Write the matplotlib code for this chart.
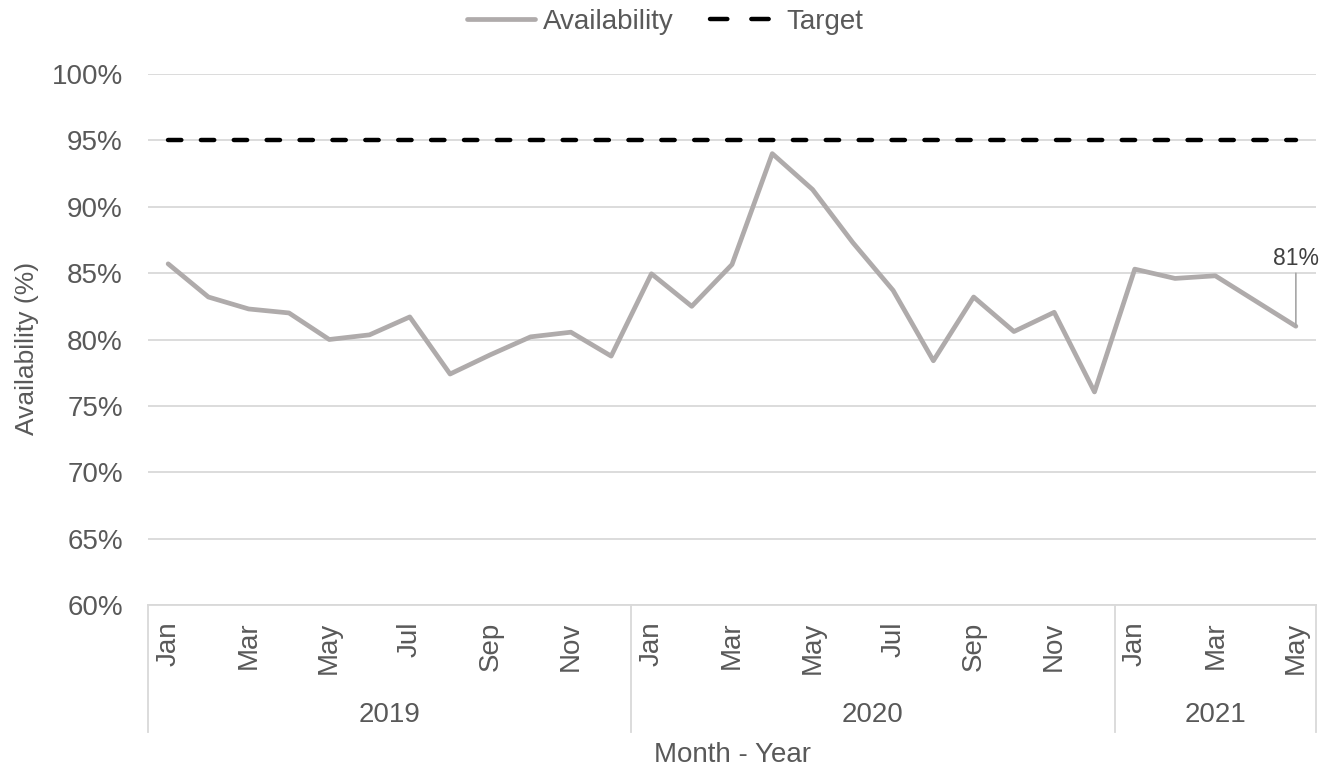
import matplotlib.pyplot as plt
from matplotlib.ticker import PercentFormatter
from matplotlib.lines import Line2D
import matplotlib.transforms as mtransforms

plt.rcParams['font.family'] = ['Liberation Sans', 'DejaVu Sans']

months = ["Jan", "Feb", "Mar", "Apr", "May", "Jun", "Jul", "Aug", "Sep", "Oct", "Nov", "Dec",
          "Jan", "Feb", "Mar", "Apr", "May", "Jun", "Jul", "Aug", "Sep", "Oct", "Nov", "Dec",
          "Jan", "Feb", "Mar", "Apr", "May"]
years = ["2019", "2020", "2021"]
year_counts = [12, 12, 5]
availability = [85.7, 83.2, 82.3, 82.0, 80.0, 80.35, 81.7, 77.4, 78.85, 80.2, 80.55, 78.75,
                84.95, 82.5, 85.65, 94.0, 91.3, 87.3, 83.7, 78.4, 83.2, 80.6, 82.05, 76.05,
                85.3, 84.6, 84.8, 82.9, 81.0]
target = [95.0] * len(months)

grey_text = "#595959"
avail_col = "#AFABAB"

fig = plt.figure(figsize=(13.3, 7.69), dpi=100)
ax = fig.add_axes([148 / 1330, 1 - 605 / 769, (1316 - 148) / 1330, (605 - 74) / 769])

x = list(range(len(months)))
ax.plot(x, availability, color=avail_col, lw=3.4, solid_capstyle="round",
        solid_joinstyle="round", zorder=3)
ax.plot(x, target, color="black", lw=3.2, dashes=(3.0, 4.4), dash_capstyle="round", zorder=3)

ax.set_xlim(-0.5, len(months) - 0.5)
ax.set_ylim(60, 100)
ax.yaxis.set_major_formatter(PercentFormatter(decimals=0))
ax.set_yticks(range(60, 101, 5))
ax.grid(axis="y", color="#D9D9D9", lw=1.3)
ax.set_axisbelow(True)
for s in ["top", "right", "left"]:
    ax.spines[s].set_visible(False)
ax.spines["bottom"].set_color("#D9D9D9")
ax.spines["bottom"].set_linewidth(1.3)

ax.set_xticks(x[::2])
ax.set_xticklabels(months[::2], rotation=90, fontsize=20, color=grey_text)
ax.tick_params(axis="x", length=0, pad=12)
ax.tick_params(axis="y", length=0, pad=18, labelsize=20, labelcolor=grey_text)

# year groups under the month labels
trans = mtransforms.blended_transform_factory(ax.transData, ax.transAxes)
start = -0.5
ax.plot([start, start], [0, -0.24], transform=trans, color="#D9D9D9", lw=1.3, clip_on=False)
for yr, n in zip(years, year_counts):
    end = start + n
    ax.plot([end, end], [0, -0.24], transform=trans, color="#D9D9D9", lw=1.3, clip_on=False)
    ax.text((start + end) / 2, -0.207, yr, transform=trans, ha="center", va="center",
            fontsize=20, color=grey_text)
    start = end

# last value label
ax.annotate(f"{availability[-1]:.0f}%", xy=(x[-1], availability[-1]),
            xytext=(x[-1], availability[-1] + 4.2), ha="center", va="bottom",
            fontsize=16.5, color="#404040",
            arrowprops=dict(arrowstyle="-", color="#A6A6A6", lw=1.2, shrinkA=0, shrinkB=0))

fig.text(27 / 1330, 1 - 348 / 769, "Availability (%)", rotation=90, ha="center", va="center",
         fontsize=19, color=grey_text)
fig.text(733 / 1330, 1 - 755 / 769, "Month - Year", ha="center", va="center",
         fontsize=20, color=grey_text)

handles = [Line2D([], [], color=avail_col, lw=3.4, solid_capstyle="round"),
           Line2D([], [], color="black", lw=3.2, dashes=(3.9, 5.4), dash_capstyle="round")]
fig.legend(handles, ["Availability", "Target"], loc="center",
           bbox_to_anchor=(665 / 1330, 1 - 22 / 769), ncol=2, frameon=False,
           fontsize=20, handlelength=2.45, handletextpad=0.3, columnspacing=1.3,
           labelcolor=grey_text)

plt.savefig("out.png", dpi=100)
